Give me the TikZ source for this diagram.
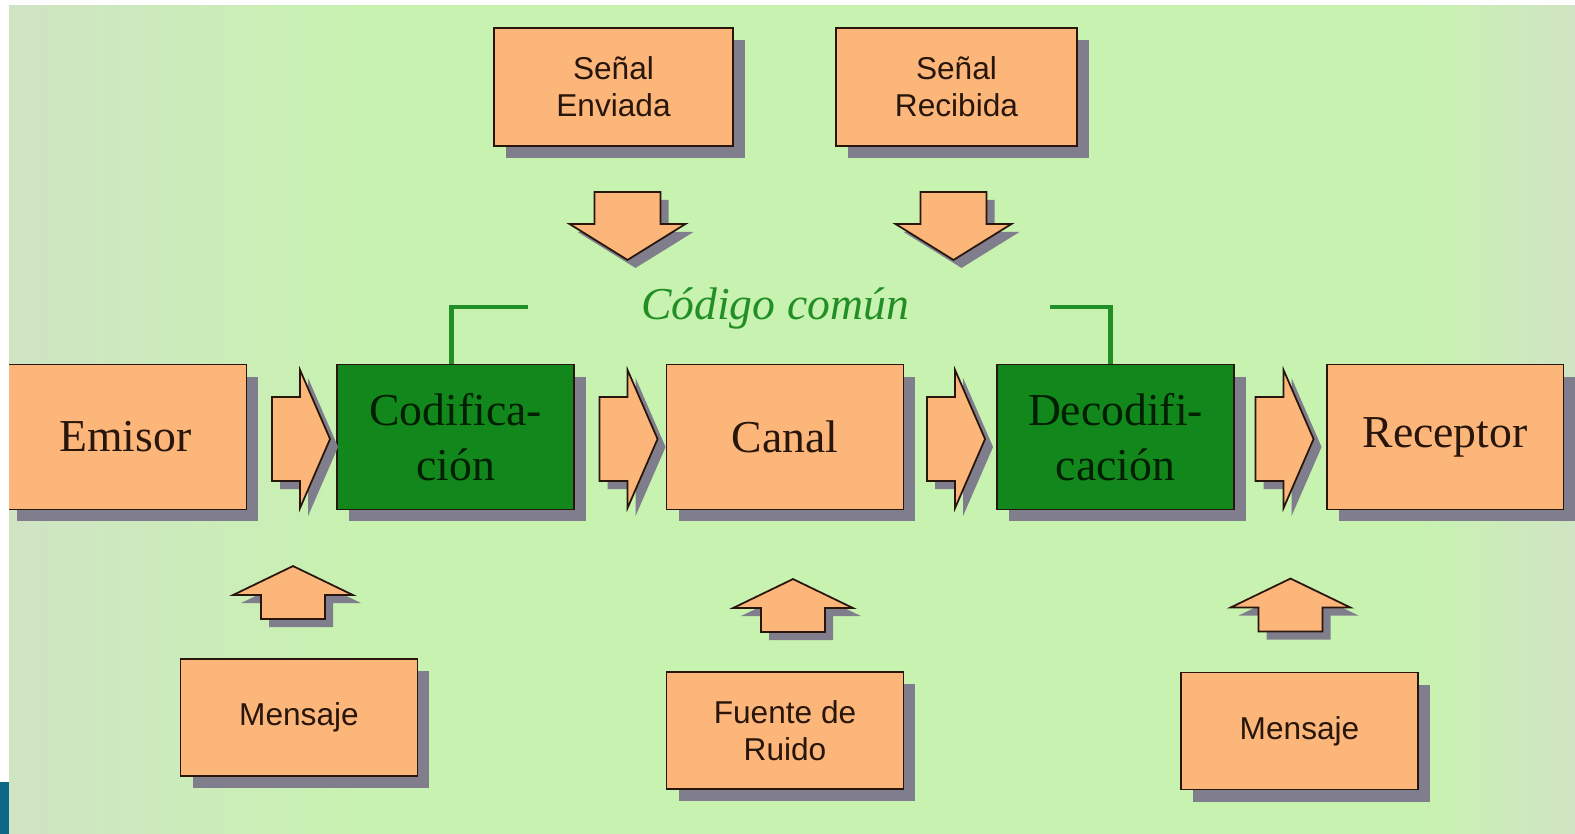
\documentclass[tikz,border=0pt]{standalone}
\usepackage{fontspec}
\setmainfont{Liberation Serif}
\newfontfamily\labelsans{Liberation Sans}
\usetikzlibrary{calc,shadows}
\definecolor{bggreen}{RGB}{200,242,176}
\definecolor{bgpale}{RGB}{208,228,196}
\definecolor{boxorange}{RGB}{252,182,122}
\definecolor{codegreen}{RGB}{18,136,28}
\definecolor{linegreen}{RGB}{34,142,38}
\definecolor{inkbrown}{RGB}{40,22,12}
\definecolor{shadowgray}{RGB}{128,126,140}
\definecolor{slideblue}{RGB}{12,104,135}
\tikzset{
  boxshadow/.style={drop shadow={shadow xshift=0.24cm,shadow yshift=-0.24cm,fill=shadowgray,opacity=1}},
  bigbox/.style={draw=inkbrown,line width=1.1pt,fill=boxorange,boxshadow,minimum width=4.74cm,minimum height=2.9cm,align=center,text=inkbrown,font=\fontsize{26}{31}\selectfont},
  codebox/.style={bigbox,fill=codegreen,text=black!88!green},
  smallbox/.style={draw=inkbrown,line width=1.1pt,fill=boxorange,boxshadow,minimum width=4.74cm,minimum height=2.34cm,align=center,text=inkbrown,font=\labelsans\fontsize{18}{21}\selectfont},
  blockarrow/.style={draw=inkbrown,line width=1pt,line join=miter,fill=boxorange,drop shadow={shadow xshift=0.16cm,shadow yshift=-0.16cm,fill=shadowgray,opacity=1}},
  bracket/.style={draw=linegreen,line width=2.8pt,line join=miter}
}
\def\rightblock#1{\draw[blockarrow] #1 -- ++(-30,-69) -- ++(0,27) -- ++(-28,0) -- ++(0,84) -- ++(28,0) -- ++(0,27) -- cycle;}
\def\downblock#1{\draw[blockarrow] #1 -- ++(-58,-36) -- ++(25,0) -- ++(0,-32) -- ++(66,0) -- ++(0,32) -- ++(25,0) -- cycle;}
\def\upblock#1{\draw[blockarrow] #1 -- ++(-60,29) -- ++(28,0) -- ++(0,24) -- ++(64,0) -- ++(0,-24) -- ++(28,0) -- cycle;}

\begin{document}
\begin{tikzpicture}[x=0.02cm,y=-0.02cm]
	\useasboundingbox (0,0) rectangle (1575,833);
	
	% background
	\fill[bggreen] (9,5) rectangle (1580,840);
	\shade[left color=bgpale,right color=bggreen] (9,5) rectangle (360,840);
	\shade[left color=bggreen,right color=bgpale] (1420,5) rectangle (1580,840);
	
	% main chain
	\node[bigbox,minimum width=4.84cm] (emisor) at (125.5,437) {Emisor};
	\node[codebox] (codif) at (455.5,437) {Codifica-\\ción};
	\node[bigbox] (canal) at (785,437) {Canal};
	\node[codebox] (decodif) at (1115.5,437) {Decodifi-\\cación};
	\node[bigbox] (receptor) at (1445,437) {Receptor};
	
	\rightblock{($(codif.west)+(-6,2)$)}
	\rightblock{($(canal.west)+(-8,2)$)}
	\rightblock{($(decodif.west)+(-11,2)$)}
	\rightblock{($(receptor.west)+(-12,2)$)}
	
	% signals
	\node[smallbox,minimum width=4.78cm,minimum height=2.36cm] (enviada) at (613.5,87) {Señal\\Enviada};
	\node[smallbox,minimum width=4.82cm,minimum height=2.36cm] (recibida) at (956.5,87) {Señal\\Recibida};
	\downblock{($(enviada.south)+(14,113)$)}
	\downblock{($(recibida.south)+(-3,113)$)}
	
	% common code
	\node[text=linegreen,font=\itshape\fontsize{26}{31}\selectfont,anchor=base] (codigo) at (775,319) {Código común};
	\coordinate (codeL) at (528,307);
	\coordinate (codeR) at (1050,307);
	\draw[bracket] (codeL) -| ($(codif.north)+(-4,0)$);
	\draw[bracket] (codeR) -| ($(decodif.north)+(-5,0)$);
	
	% sources
	\node[smallbox] (mensajeA) at (299,717.5) {Mensaje};
	\node[smallbox] (ruido) at (785,730.5) {Fuente de\\Ruido};
	\node[smallbox] (mensajeB) at (1299.5,731) {Mensaje};
	\upblock{($(mensajeA.north)+(-6,-92)$)}
	\upblock{($(ruido.north)+(8,-92)$)}
	\upblock{($(mensajeB.north)+(-9,-93)$)}
	
	% margins
	\fill[white] (-5,-5) rectangle (9,840);
	\fill[white] (-5,-5) rectangle (1580,5);
	\fill[slideblue] (-5,782) rectangle (9,840);
\end{tikzpicture}
\end{document}
